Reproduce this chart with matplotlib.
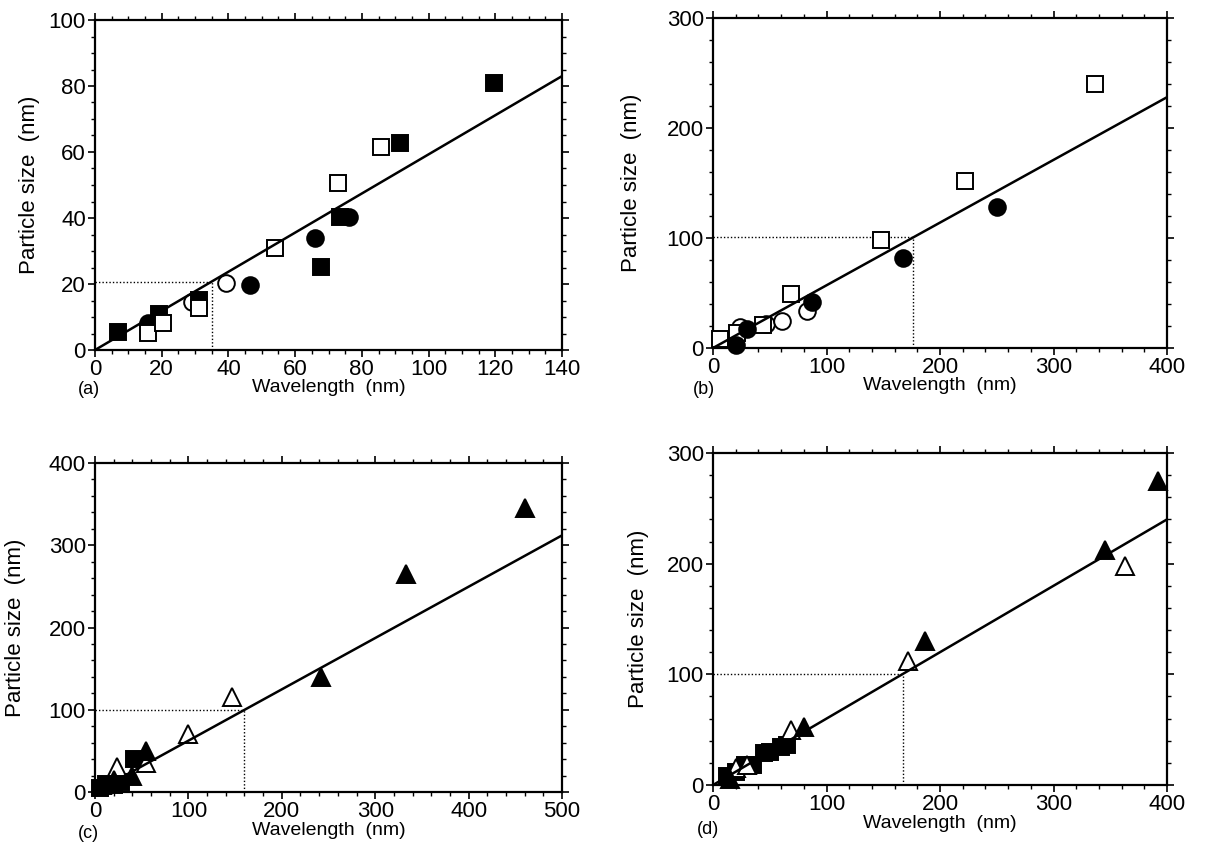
import matplotlib
matplotlib.use("Agg")
import matplotlib.pyplot as plt
from matplotlib.ticker import MultipleLocator

plt.rcParams['font.family'] = ['Liberation Sans', 'DejaVu Sans']

# ---------------- data ----------------
# panel (a)
a_fsq_x = [7, 19.2, 31.1, 67.9, 73.5, 91.5, 119.5]
a_fsq_y = [5.5, 10.9, 15.2, 25.2, 40.4, 62.8, 81]
a_osq_x = [16, 20.5, 31.1, 53.9, 72.7, 85.8]
a_osq_y = [5.2, 8.1, 12.6, 30.8, 50.5, 61.4]
a_fci_x = [16, 46.4, 65.9, 76]
a_fci_y = [8.3, 19.7, 34, 40.4]
a_oci_x = [29, 39.4]
a_oci_y = [14.6, 20.2]
a_fit_x = [0, 140]
a_fit_y = [0, 83]
a_guide = (35, 20.7)

# panel (b)
b_osq_x = [6, 21, 44, 69, 148, 222, 337]
b_osq_y = [8, 14, 21, 49, 98, 152, 240]
b_fci_x = [20, 30, 87, 167, 250]
b_fci_y = [3, 17, 42, 82, 128]
b_oci_x = [24, 47, 61, 83]
b_oci_y = [19, 22, 25, 34]
b_fit_x = [0, 400]
b_fit_y = [0, 228]
b_guide = (176, 101)

# panel (c)
c_otr_x = [24, 55, 100, 147]
c_otr_y = [30, 35, 70, 115]
c_ftr_x = [8, 20, 40, 55, 242, 333, 460]
c_ftr_y = [8, 14, 20, 50, 140, 265, 345]
c_fsq_x = [5, 12, 20, 28, 42]
c_fsq_y = [5, 10, 8, 12, 40]
c_fit_x = [0, 500]
c_fit_y = [0, 312]
c_guide = (160, 100)

# panel (d)
d_ftr_x = [15, 80, 187, 345, 392]
d_ftr_y = [5, 52, 130, 212, 275]
d_otr_x = [20, 30, 69, 172, 363]
d_otr_y = [15, 18, 50, 112, 198]
d_fsq_x = [12, 20, 28, 35, 45, 50, 60, 65]
d_fsq_y = [8, 12, 18, 18, 29, 30, 34, 36]
d_fit_x = [0, 400]
d_fit_y = [0, 240]
d_guide = (167, 100)

# ---------------- figure ----------------
W, H = 1211, 857
fig = plt.figure(figsize=(W / 100, H / 100), dpi=100)


def box(l, r, t, b):
    return [l / W, 1 - b / H, (r - l) / W, (b - t) / H]


axa = fig.add_axes(box(95, 562, 20, 350))
axb = fig.add_axes(box(713, 1167, 18, 348))
axc = fig.add_axes(box(95, 562, 463, 792))
axd = fig.add_axes(box(713, 1167, 453, 785))

MS = 12
EW = 1.4


def pts(ax, x, y, marker, filled, z=3, ms=MS):
    ax.plot(x, y, linestyle='none', marker=marker, markersize=ms,
            markerfacecolor='black' if filled else 'white',
            markeredgecolor='black', markeredgewidth=EW, zorder=z,
            clip_on=False)


def style(ax, xlim, ylim, xmaj, xmin, ymaj, ymin, xlab_y, ylab_x):
    ax.set_xlim(*xlim)
    ax.set_ylim(*ylim)
    ax.xaxis.set_major_locator(MultipleLocator(xmaj))
    ax.xaxis.set_minor_locator(MultipleLocator(xmin))
    ax.yaxis.set_major_locator(MultipleLocator(ymaj))
    ax.yaxis.set_minor_locator(MultipleLocator(ymin))
    ax.tick_params(which='both', direction='out', top=True, right=True,
                   labeltop=False, labelright=False, colors='black')
    ax.tick_params(which='major', length=5, width=1.2, labelsize=16, pad=1.5)
    ax.tick_params(which='minor', length=3, width=1.0)
    for s in ax.spines.values():
        s.set_linewidth(1.6)
    ax.set_xlabel('Wavelength  (nm)', fontsize=14)
    ax.set_ylabel('Particle size  (nm)', fontsize=16)
    ax.xaxis.set_label_coords(0.5, xlab_y)
    ax.yaxis.set_label_coords(ylab_x, 0.5)


def fit(ax, fx, fy, guide):
    ax.plot(fx, fy, color='black', lw=1.8, zorder=5)
    gx, gy = guide
    ax.plot([0, gx], [gy, gy], color='black', lw=1.0, ls=(0, (1, 1.5)), zorder=2)
    ax.plot([gx, gx], [0, gy], color='black', lw=1.0, ls=(0, (1, 1.5)), zorder=2)


# (a)
style(axa, (0, 140), (0, 100), 20, 5, 20, 5, -0.088, -0.118)
fit(axa, a_fit_x, a_fit_y, a_guide)
pts(axa, a_fci_x, a_fci_y, 'o', True)
pts(axa, a_oci_x, a_oci_y, 'o', False)
pts(axa, a_fsq_x, a_fsq_y, 's', True)
pts(axa, a_osq_x, a_osq_y, 's', False)

# (b)
style(axb, (0, 400), (0, 300), 100, 20, 100, 20, -0.088, -0.156)
fit(axb, b_fit_x, b_fit_y, b_guide)
pts(axb, b_oci_x, b_oci_y, 'o', False)
pts(axb, b_osq_x, b_osq_y, 's', False)
pts(axb, b_fci_x, b_fci_y, 'o', True)

# (c)
style(axc, (0, 500), (0, 400), 100, 20, 100, 20, -0.09, -0.148)
fit(axc, c_fit_x, c_fit_y, c_guide)
pts(axc, c_fsq_x, c_fsq_y, 's', True)
pts(axc, c_otr_x, c_otr_y, '^', False, ms=13)
pts(axc, c_ftr_x, c_ftr_y, '^', True, ms=13)

# (d)
style(axd, (0, 400), (0, 300), 100, 20, 100, 20, -0.09, -0.14)
fit(axd, d_fit_x, d_fit_y, d_guide)
pts(axd, d_fsq_x, d_fsq_y, 's', True)
pts(axd, d_otr_x, d_otr_y, '^', False, ms=13)
pts(axd, d_ftr_x, d_ftr_y, '^', True, ms=13)

# panel letters
fig.text(78 / W, 1 - 390 / H, '(a)', fontsize=13, va='center', ha='left')
fig.text(693 / W, 1 - 390 / H, '(b)', fontsize=13, va='center', ha='left')
fig.text(78 / W, 1 - 834 / H, '(c)', fontsize=13, va='center', ha='left')
fig.text(697 / W, 1 - 830 / H, '(d)', fontsize=13, va='center', ha='left')

fig.savefig('out.png', dpi=100, facecolor='white')
